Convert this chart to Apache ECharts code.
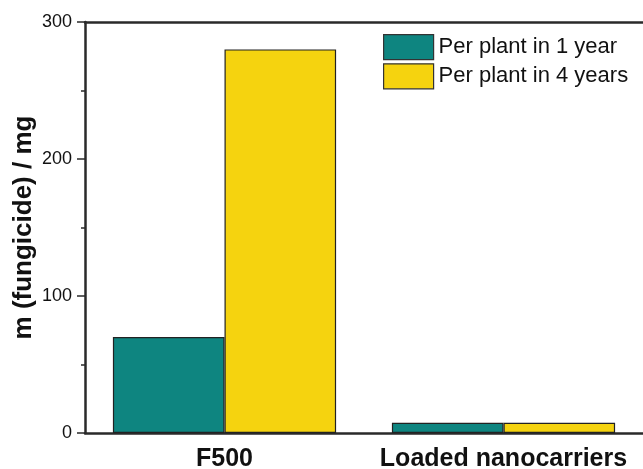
<!DOCTYPE html>
<html><head><meta charset="utf-8">
<script src="https://cdn.jsdelivr.net/npm/echarts@6/dist/echarts.min.js"></script>
<style>html,body{margin:0;padding:0;background:#fff}#c{width:643px;height:469px}</style>
</head><body><div id="c"></div>
<script>
const categories = ['F500', 'Loaded nanocarriers'];
const seriesNames = ['Per plant in 1 year', 'Per plant in 4 years'];
const perYear1 = [70, 7.5];
const perYear4 = [280, 7.5];
const yTicks = [0, 100, 200, 300];

const chart = echarts.init(document.getElementById('c'));
const axisColor = '#2a2a2a';
const font = 'Liberation Sans, Arial, sans-serif';
chart.setOption({
  animation: false,
  grid: {left: 85, right: 0, top: 22, bottom: 36, outerBoundsMode: 'none', containLabel: false},
  legend: {
    data: seriesNames, orient: 'vertical', left: 378, top: 29, icon: 'rect',
    itemWidth: 50, itemHeight: 25, itemGap: 3,
    textStyle: {fontFamily: font, fontSize: 22, color: '#111'},
    itemStyle: {borderColor: '#333', borderWidth: 1.2}
  },
  xAxis: [{
    type: 'category', data: categories, position: 'bottom',
    axisLine: {lineStyle: {color: axisColor, width: 2.5}},
    axisTick: {alignWithLabel: true, length: 8, inside: false, lineStyle: {color: axisColor, width: 1.5}},
    axisLabel: {interval: 0, hideOverlap: false, fontFamily: font, fontSize: 25, fontWeight: 'bold', color: '#111', margin: 14}
  }, {
    type: 'category', data: categories, position: 'bottom',
    axisLine: {show: false},
    axisTick: {length: 5, lineStyle: {color: axisColor, width: 1.5}},
    axisLabel: {show: false}
  }, {
    type: 'category', data: categories, position: 'top',
    axisLine: {lineStyle: {color: axisColor, width: 2.5}},
    axisTick: {show: false}, axisLabel: {show: false}
  }],
  yAxis: {
    type: 'value', min: yTicks[0], max: yTicks[yTicks.length - 1], interval: 100,
    name: 'm (fungicide) / mg', nameLocation: 'middle', nameGap: 48, nameMoveOverlap: false,
    nameTextStyle: {fontFamily: font, fontSize: 26, fontWeight: 'bold', color: '#111'},
    axisLine: {show: true, lineStyle: {color: axisColor, width: 2.5}},
    axisTick: {show: true, length: 8, lineStyle: {color: axisColor, width: 1.5}},
    minorTick: {show: true, splitNumber: 2, length: 4, lineStyle: {color: axisColor, width: 1.5}},
    splitLine: {show: false},
    axisLabel: {fontFamily: font, fontSize: 18, color: '#111', margin: 13}
  },
  series: [{
    name: seriesNames[0], type: 'bar', data: perYear1, barWidth: '40%', barGap: '0%',
    itemStyle: {color: '#0e8580', borderColor: '#222', borderWidth: 1.2}
  }, {
    name: seriesNames[1], type: 'bar', data: perYear4, barWidth: '40%', barGap: '0%',
    itemStyle: {color: '#f5d30f', borderColor: '#222', borderWidth: 1.2}
  }]
});
</script></body></html>
